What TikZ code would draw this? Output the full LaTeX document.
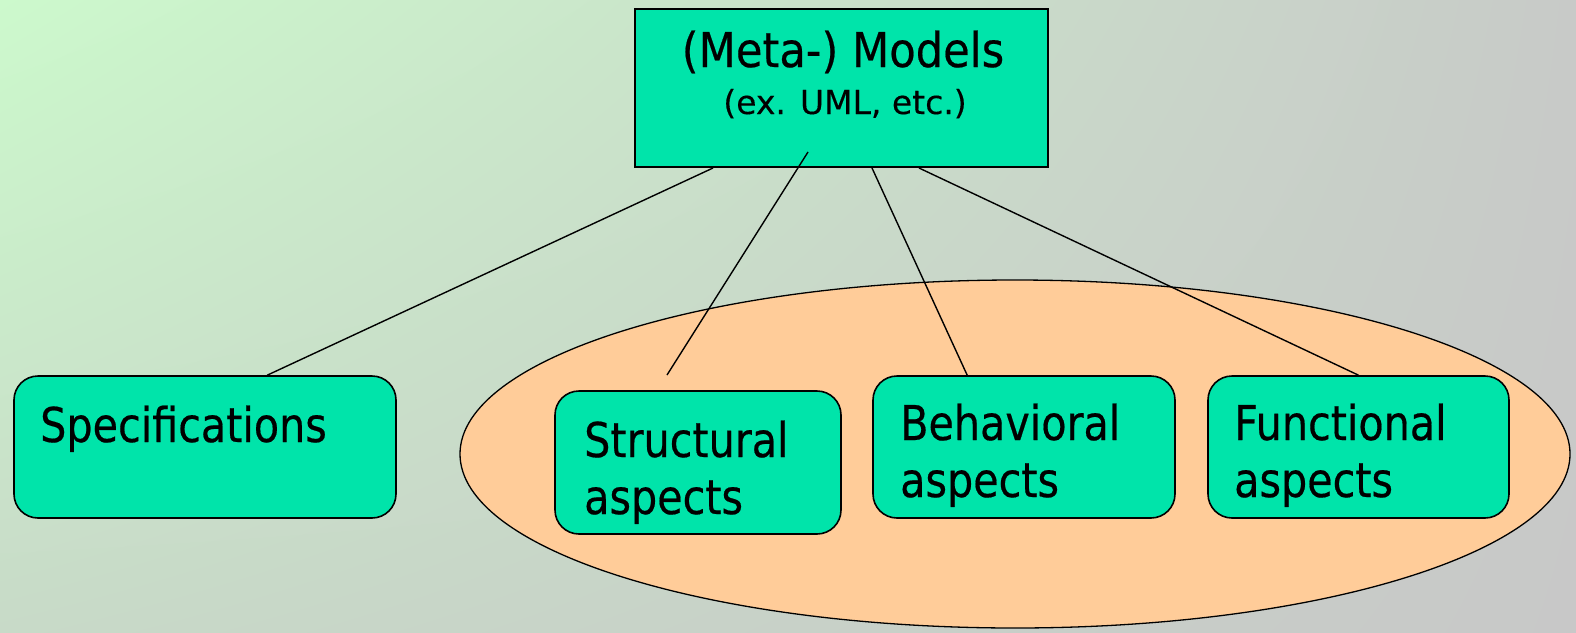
\documentclass[tikz,border=0pt]{standalone}
\usepackage{fontspec}
\setmainfont{DejaVu Sans}[FakeStretch=0.86,FakeBold=0.4]
\newfontfamily\titlefont{DejaVu Sans}[FakeStretch=0.9,FakeBold=0.4]
\newfontfamily\subfont{DejaVu Sans}[FakeStretch=1.0,FakeBold=0.3]
\usepackage{xcolor}
\usetikzlibrary{calc,shadings}

\definecolor{boxgreen}{RGB}{0,228,170}
\definecolor{peach}{RGB}{255,204,153}
\definecolor{bgtl}{RGB}{204,249,204}
\definecolor{bgbl}{RGB}{200,218,200}
\definecolor{bgtr}{RGB}{200,202,200}
\definecolor{bgbr}{RGB}{200,200,200}

\begin{document}
\begin{tikzpicture}[x=1pt,y=-1pt]
\tikzstyle{aspect}=[draw,line width=1.6pt,fill=boxgreen,rounded corners=24pt,inner sep=0pt]
\tikzstyle{lbl}=[anchor=base west,inner sep=0pt,text width=280pt,align=left,font=\fontsize{48}{57}\selectfont]
\tikzstyle{link}=[line width=1.4pt]

% background
\shade[upper left=bgtl,lower left=bgbl,upper right=bgtr,lower right=bgbr] (0,0) rectangle (1576,632);
\useasboundingbox (0,0) rectangle (1576,632);

\draw[line width=1.3pt,fill=peach] (1015,454) ellipse [x radius=555, y radius=174];

\node[draw,line width=2pt,fill=boxgreen,minimum width=413pt,minimum height=158pt,inner sep=0pt] (models) at (841.5,88) {};
\node[anchor=base,inner sep=0pt,font=\titlefont\fontsize{48}{57}\selectfont] (models-title) at (843,67) {(Meta-) Models};
\node[anchor=base,inner sep=0pt,font=\subfont\fontsize{33}{40}\selectfont] (models-sub) at (845,114) {(ex. UML, etc.)};

\node[aspect,minimum width=382pt,minimum height=142pt] (spec) at (205,447) {};
\node[aspect,minimum width=286pt,minimum height=143pt] (struct) at (698,462.5) {};
\node[aspect,minimum width=302pt,minimum height=142pt] (behav) at (1024,447) {};
\node[aspect,minimum width=301pt,minimum height=142pt] (func) at (1358.5,447) {};

\node[lbl] (spec-text) at (40,442) {Specifications};
\node[lbl] (struct-text) at (584,457) {Structural\\aspects};
\node[lbl] (behav-text) at (900,440) {Behavioral\\aspects};
\node[lbl] (func-text) at (1234,440) {Functional\\aspects};

% connectors
\coordinate (models-in) at (808,152);
\coordinate (struct-end) at (667,375);
\draw[link] ($(models.south west)+(79,0)$) -- ($(spec.north west)+(254,0)$);
\draw[link] (models-in) -- (struct-end);
\draw[link] ($(models.south west)+(238,0)$) -- ($(behav.north west)+(95,0)$);
\draw[link] ($(models.south west)+(285,0)$) -- (func.north);
\end{tikzpicture}
\end{document}
